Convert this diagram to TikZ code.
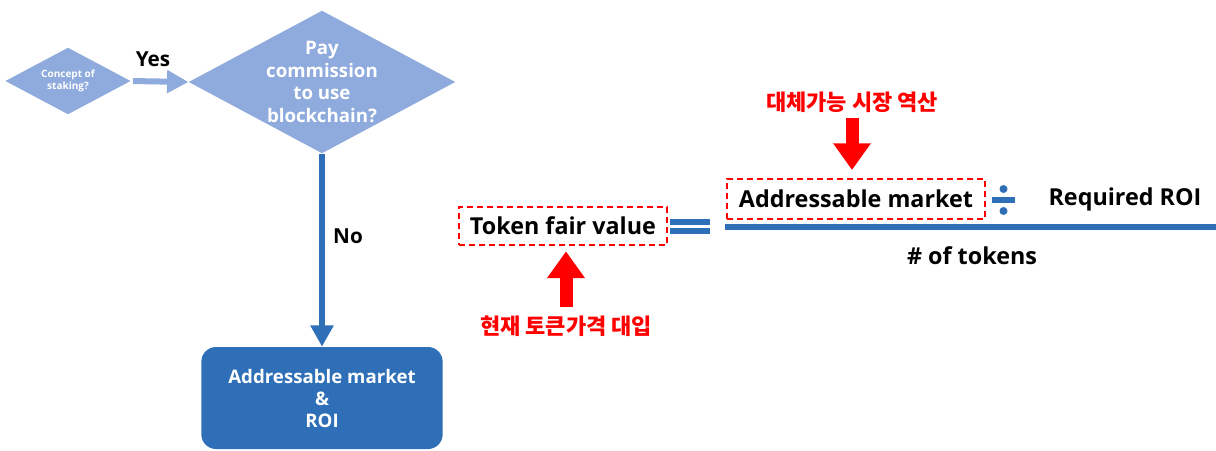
\documentclass[tikz,border=0pt]{standalone}
\usepackage{fontspec}
\setmainfont{Open Sans}
\newfontfamily\kofont{Noto Sans CJK KR}
\usetikzlibrary{shapes.geometric, arrows.meta, positioning}
\definecolor{lightblue}{HTML}{8FAADC}
\definecolor{darkblue}{HTML}{2E6FB7}
\tikzstyle{decision} = [diamond, fill=lightblue, draw=none, inner sep=0pt]
\tikzstyle{qtext} = [text=white, align=center, font=\bfseries\fontsize{14}{17}\selectfont]
\tikzstyle{result} = [rectangle, rounded corners=11pt, fill=darkblue, text=white, align=center, minimum width=181pt, minimum height=76.5pt, font=\bfseries\fontsize{14}{16.5}\selectfont]
\tikzstyle{term} = [rectangle, draw=red, line width=1.5pt, dash pattern=on 4.5pt off 3pt, inner sep=0pt, font=\bfseries\fontsize{17.5}{20}\selectfont]
\tikzstyle{plain} = [font=\bfseries\fontsize{17.5}{20}\selectfont]
\tikzstyle{answer} = [font=\bfseries\fontsize{15.5}{18}\selectfont]
\tikzstyle{note} = [text=red, font=\kofont\bfseries\fontsize{16.5}{19}\selectfont]
\tikzstyle{arrow} = [line width=4.5pt, -{Triangle[width=16.5pt, length=16pt]}]
\tikzstyle{redarrow} = [red, line width=9.75pt, -{Triangle[width=27pt, length=20pt]}]

\begin{document}
\begin{tikzpicture}[x=0.75pt, y=-0.75pt]
\useasboundingbox (0,0) rectangle (1216,450);

% Questions
\node (staking) [decision, minimum width=94pt, minimum height=50pt] at (68,81) {};
\node [text=white, align=center, font=\bfseries\fontsize{7.5}{9}\selectfont] at (staking) {Concept of\\staking?};
\node (pay) [decision, minimum width=200pt, minimum height=107pt] at (322,82) {};
\node [qtext] at (pay) {Pay\\commission\\to use\\blockchain?};

% Result
\node (market) [result] at (322,398) {Addressable market\\\&\\ROI};

% Labels
\node (yes) [answer] at (153,59) {Yes};
\node (no) [answer] at (348,236) {No};

% Formula
\node (fairvalue) [term, minimum width=156pt, minimum height=28.5pt] at (563,226) {Token fair value};
\node (addr) [term, minimum width=193.5pt, minimum height=30pt] at (856,199) {Addressable market};
\node (roi) [plain] at (1125,199) {Required ROI};
\node (tokens) [plain] at (972,256) {\# of tokens};
\fill [darkblue] (670,219) rectangle (710,225);
\fill [darkblue] (670,228) rectangle (710,234);
\fill [darkblue] (725,224) rectangle (1216,230);
\fill [darkblue] (992,197) rectangle (1015,203);
\fill [darkblue] (1003.5,189) circle (3pt);
\fill [darkblue] (1003.5,211) circle (3pt);

% Notes
\node (reverse) [note] at (852,102) {대체가능 시장 역산};
\node (subst) [note] at (566,326) {현재 토큰가격 대입};

% Arrows
\draw [arrow, lightblue, shorten <=1.5pt] (staking.east) -- (pay.west);
\draw [arrow, darkblue] (pay.south) -- (market.north);
\draw [redarrow, shorten <=1pt, shorten >=6pt] (reverse.south) -- (reverse.south |- addr.north);
\draw [redarrow, shorten <=3pt, shorten >=4pt] (subst.north) -- (subst.north |- fairvalue.south);

\end{tikzpicture}
\end{document}
